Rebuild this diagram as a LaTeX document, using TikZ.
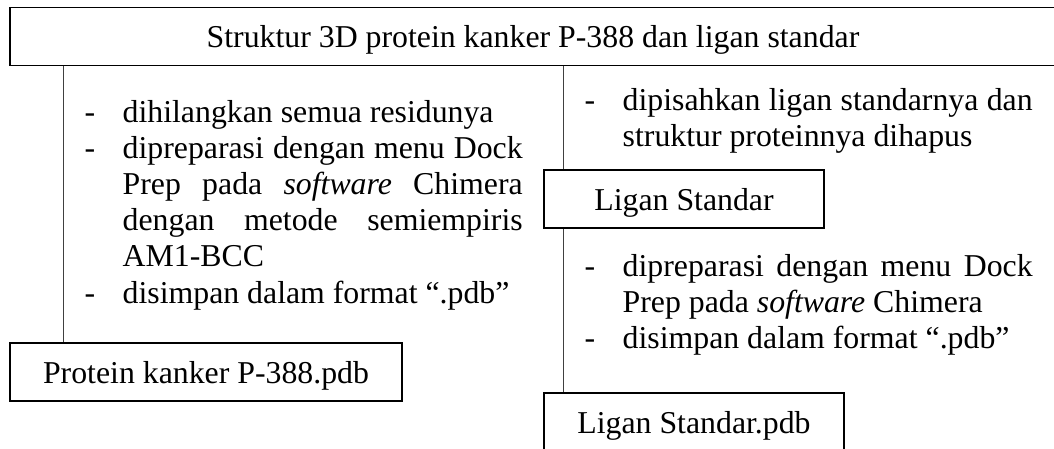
\documentclass[tikz,border=0pt]{standalone}
\usepackage{fontspec}
\setmainfont{Liberation Serif}
\newcommand\dashj[2][400pt]{\makebox[38pt][l]{-}\makebox[#1][s]{#2}}
\newcommand\dashn[1]{\makebox[38pt][l]{-}#1}
\newcommand\contj[2][400pt]{\hspace*{38pt}\makebox[#1][s]{#2}}
\newcommand\contn[1]{\hspace*{38pt}#1}
\begin{document}
\begin{tikzpicture}[x=1pt,y=-1pt,
  txt/.style={font=\fontsize{31.8}{36.2}\selectfont},
  box/.style={txt,draw=black,line width=1.5pt,fill=white,inner sep=0pt,
    minimum height=58pt,text height=24pt,text depth=2pt},
  lst/.style={txt,anchor=base west,inner sep=0pt},
  conn/.style={draw=black!75,line width=1pt}]
\useasboundingbox (0,0) rectangle (1054,448);
\node[box,minimum width=1046pt] (title) at (533,36.25) {Struktur 3D protein kanker P-388 dan ligan standar};
\node[box,minimum width=392pt] (prot) at (206,372) {Protein kanker P-388.pdb};
\node[box,minimum width=280pt] (lig) at (684,199) {Ligan Standar};
\node[box,minimum width=300pt] (ligpdb) at (694,422) {Ligan Standar.pdb};
\coordinate (lx) at (63.5,0);
\coordinate (mx) at (563.5,0);
\draw[conn] (lx |- title.south) -- (lx |- prot.north);
\draw[conn] (mx |- title.south) -- (mx |- lig.north);
\draw[conn] (mx |- lig.south) -- (mx |- ligpdb.north);
\node[lst] (llist) at (84.5,122) {\parbox[t]{440pt}{%
\dashn{dihilangkan semua residunya}\\
\dashj{dipreparasi dengan menu Dock}\\
\contj{Prep pada \textit{software} Chimera}\\
\contj{dengan metode semiempiris}\\
\contn{AM1-BCC}\\
\dashn{disimpan dalam format “.pdb”}}};
\node[lst] (rtop) at (584.5,110) {\parbox[t]{450pt}{%
\dashj[410pt]{dipisahkan ligan standarnya dan}\\
\contn{struktur proteinnya dihapus}}};
\node[lst] (rbot) at (584.5,276) {\parbox[t]{450pt}{%
\dashj[410pt]{dipreparasi dengan menu Dock}\\
\contn{Prep pada \textit{software} Chimera}\\
\dashn{disimpan dalam format “.pdb”}}};
\end{tikzpicture}
\end{document}
